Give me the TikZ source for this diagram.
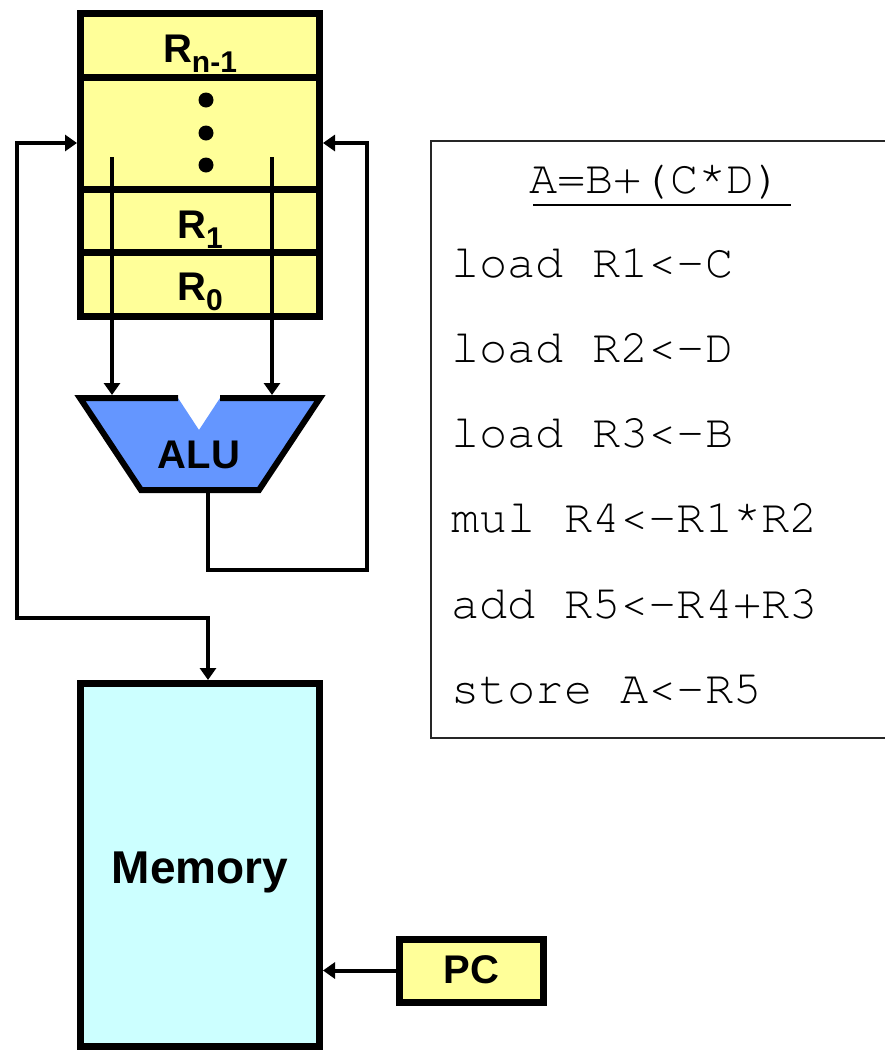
\documentclass[tikz,border=0pt]{standalone}
\usepackage{fontspec}
\setmainfont{Liberation Sans}
\newfontfamily\codefont{texgyrecursor-regular.otf}
\usetikzlibrary{arrows.meta}
\definecolor{regyellow}{RGB}{255,255,153}
\definecolor{alublue}{RGB}{100,150,255}
\definecolor{memcyan}{RGB}{204,255,255}
\begin{document}
\begin{tikzpicture}[x=1pt,y=-1pt,
  box/.style={draw=black, line width=7pt, inner sep=0pt, outer sep=3.5pt},
  wire/.style={draw=black, line width=4pt},
  tip/.style={-{Triangle[length=12pt,width=16pt]}},
  tips/.style={{Triangle[length=12pt,width=16pt]}-{Triangle[length=12pt,width=16pt]}},
  lbl/.style={font=\fontsize{40}{40}\selectfont\bfseries, inner sep=0pt, anchor=base},
  codeline/.style={font=\codefont\fontsize{47}{47}\selectfont, anchor=base west, inner sep=0pt}]
\useasboundingbox (0,0) rectangle (884,1050);

% register file
\node[box, fill=regyellow, minimum width=239pt, minimum height=303pt] (regs) at (200,165) {};
\draw[line width=7pt] (80.5,77.5) -- (319.5,77.5);
\draw[line width=7pt] (80.5,189) -- (319.5,189);
\draw[line width=7pt] (80.5,252.5) -- (319.5,252.5);
\node[lbl] (rn) at (200,62) {R\raisebox{-10pt}{\fontsize{30}{30}\selectfont n-1}};
\node[lbl] (r1) at (200,238) {R\raisebox{-10pt}{\fontsize{30}{30}\selectfont 1}};
\node[lbl] (r0) at (200,300) {R\raisebox{-10pt}{\fontsize{30}{30}\selectfont 0}};
\fill (206,100) circle[radius=7.5pt];
\fill (206,133) circle[radius=7.5pt];
\fill (206,165) circle[radius=7.5pt];

% ALU
\fill[alublue] (80,398) -- (178,398) -- (199,430) -- (220,398) -- (320,398) -- (259,490) -- (141,490) -- cycle;
\draw[line width=6pt, line join=miter] (178,398) -- (80,398) -- (141,490) -- (259,490) -- (320,398) -- (220,398);
\node[lbl] (alu) at (199,468) {ALU};

% memory
\node[box, fill=memcyan, minimum width=239pt, minimum height=363pt] (mem) at (200,865) {};
\node[lbl, font=\fontsize{46}{46}\selectfont\bfseries] (memlbl) at (200,883) {Memory};

% PC
\node[box, fill=regyellow, minimum width=144pt, minimum height=63pt] (pc) at (471,970.5) {};
\node[lbl] (pclbl) at (471.5,983) {PC};

% code box
\node[draw=black!85, line width=2.2pt, inner sep=0pt, outer sep=0pt, minimum width=470pt, minimum height=597pt, anchor=north west] (code) at (431,141) {};
\node[codeline, anchor=base] (title) at (656,193) {A=B+(C*D)};
\draw[line width=2.5pt] (533,205) -- (791,205);
\node[codeline] (c1) at (451,277) {load R1<-C};
\node[codeline] (c2) at (451,362) {load R2<-D};
\node[codeline] (c3) at (451,447.5) {load R3<-B};
\node[codeline] (c4) at (451,532.5) {mul R4<-R1*R2};
\node[codeline] (c5) at (451,618) {add R5<-R4+R3};
\node[codeline] (c6) at (451,703) {store A<-R5};

% connectors
\coordinate (regL) at (77,143);
\coordinate (regR) at (323,143);
\coordinate (memT) at (208,680);
\coordinate (aluO) at (208,491);
\coordinate (aluA) at (112,395);
\coordinate (aluB) at (272,395);
\coordinate (rdA) at (112,157);
\coordinate (rdB) at (272,157);
\coordinate (busL) at (17,618);
\coordinate (busR) at (367,570);

\draw[wire, tips] (regL) -| (busL) -| (memT);
\draw[wire, tip] (aluO) |- (busR) |- (regR);
\draw[wire, tip] (rdA) -- (aluA);
\draw[wire, tip] (rdB) -- (aluB);
\draw[wire, tip] (pc.west) -- (mem.east |- pc.west);
\end{tikzpicture}
\end{document}
